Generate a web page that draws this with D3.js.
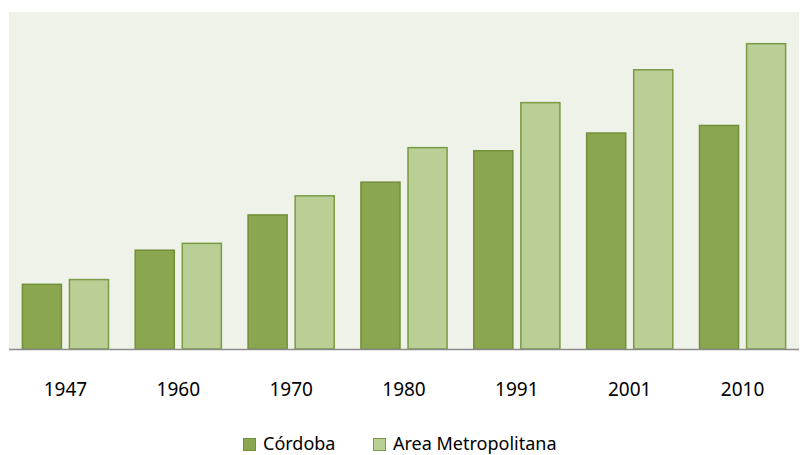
<!DOCTYPE html>
<html>
<head>
  <meta charset="utf-8" />
  <script src="https://cdn.jsdelivr.net/npm/d3@7"></script>
  <style>
    body { margin: 0; background: #fff; }
    text { font-family: "Noto Sans", "Open Sans", sans-serif; fill: #000; }
  </style>
</head>
<body>
  <svg class="chart" width="800" height="455"></svg>
  <script>
    const years = ["1947", "1960", "1970", "1980", "1991", "2001", "2010"];
    const cordoba = [386828, 589153, 798663, 993055, 1179372, 1284582, 1329604];
    const metro = [415000, 630000, 912000, 1198000, 1465000, 1660000, 1815000];
    const seriesNames = ["Córdoba", "Area Metropolitana"];
    const yMax = 2000000;

    const fills = ["#8aa64e", "#bacf95"];
    const strokes = ["#71903a", "#7a9a43"];

    const plot = { left: 9, right: 799, top: 12, bottom: 349 };
    const svg = d3.select(".chart");

    const x = d3.scaleBand().domain(years).range([plot.left, plot.right]);
    const barW = x.bandwidth() * 0.355;
    const gap = 7;
    const y = d3.scaleLinear().domain([0, yMax]).range([plot.bottom, plot.top]);

    svg.append("rect")
      .attr("x", plot.left)
      .attr("y", plot.top)
      .attr("width", plot.right - plot.left)
      .attr("height", plot.bottom - plot.top)
      .attr("fill", "#eff2e9");

    const rows = years.map((yr, i) => ({ year: yr, values: [cordoba[i], metro[i]] }));

    const groups = svg.append("g").selectAll("g").data(rows).enter().append("g")
      .attr("transform", (d) => `translate(${x(d.year) + x.bandwidth() / 2},0)`);

    groups.selectAll("rect")
      .data((d) => d.values.map((v, s) => ({ v, s })))
      .enter()
      .append("rect")
      .attr("x", (d) => (d.s === 0 ? -barW - gap / 2 : gap / 2) + 0.5)
      .attr("y", (d) => y(d.v) + 0.5)
      .attr("width", barW - 1)
      .attr("height", (d) => y(0) - y(d.v) - 0.5)
      .attr("fill", (d) => fills[d.s])
      .attr("stroke", (d) => strokes[d.s])
      .attr("stroke-width", 1.5);

    // baseline
    svg.append("line")
      .attr("x1", plot.left)
      .attr("x2", plot.right)
      .attr("y1", plot.bottom + 0.5)
      .attr("y2", plot.bottom + 0.5)
      .attr("stroke", "#8c8c8c")
      .attr("stroke-width", 1.5);

    const xAxis = svg.append("g")
      .attr("transform", `translate(0,${plot.bottom})`)
      .call(d3.axisBottom(x).tickSize(0).tickPadding(0));
    xAxis.select(".domain").remove();
    xAxis.selectAll("text")
      .attr("y", 47)
      .attr("dy", null)
      .style("font-size", "19px")
      .style("font-family", "'Noto Sans', sans-serif");

    // legend
    const legend = svg.append("g");
    const legendX = [243, 373];
    seriesNames.forEach((name, s) => {
      legend.append("rect")
        .attr("x", legendX[s] + 0.5)
        .attr("y", 438.5)
        .attr("width", 12)
        .attr("height", 12)
        .attr("fill", fills[s])
        .attr("stroke", strokes[s])
        .attr("stroke-width", 1);
      legend.append("text")
        .attr("x", legendX[s] + 20)
        .attr("y", 450)
        .style("font-size", "18px")
        .text(name);
    });
  </script>
</body>
</html>
